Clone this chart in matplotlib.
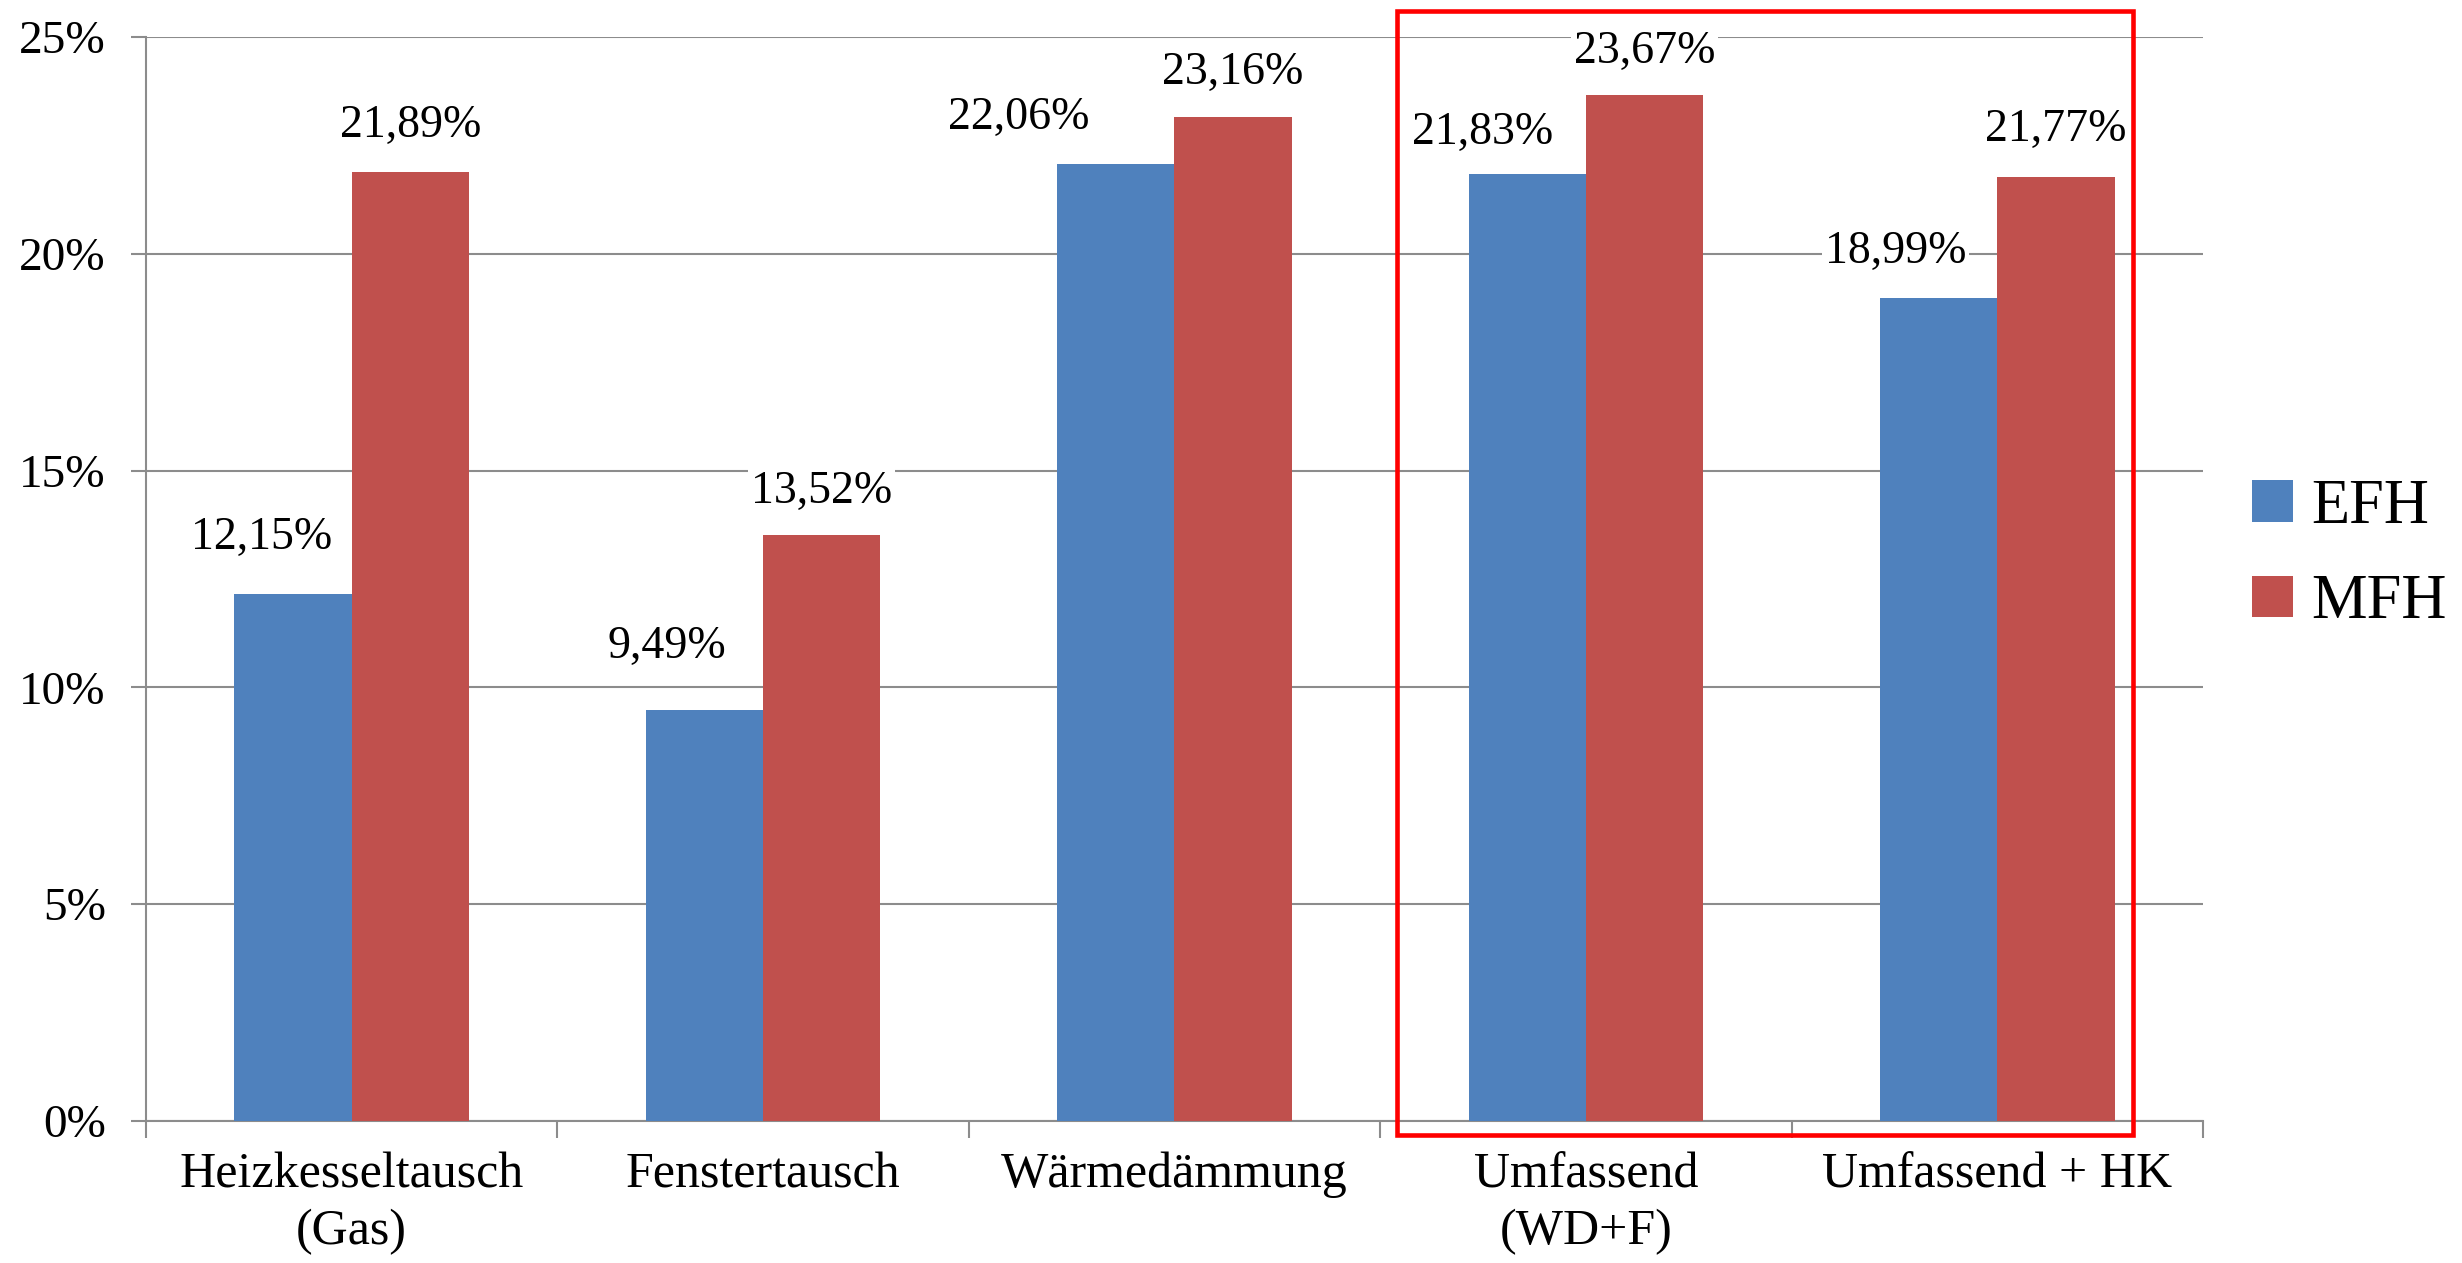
import matplotlib
matplotlib.use("Agg")
import matplotlib.pyplot as plt
from matplotlib.patches import Rectangle
import numpy as np

plt.rcParams["font.family"] = ["Liberation Serif", "DejaVu Serif"]

categories = [
    "Heizkesseltausch\n(Gas)",
    "Fenstertausch",
    "Wärmedämmung",
    "Umfassend\n(WD+F)",
    "Umfassend + HK",
]
efh = [12.15, 9.49, 22.06, 21.83, 18.99]
mfh = [21.89, 13.52, 23.16, 23.67, 21.77]
series_names = ["EFH", "MFH"]
yticks = [0, 5, 10, 15, 20, 25]

# label nudges (points)
efh_dx = [-23, -27, -70, -32, -31]
efh_dy = [41, 45, 34, 30, 33]
mfh_dy = [33, 31, 32, 31, 34]

BLUE = "#4F81BD"
RED = "#C0504D"
GRID = "#8C8C8C"

fig = plt.figure(figsize=(24.62, 12.63), dpi=100)
ax = fig.add_axes([0.0593, 0.1124, 0.8355, 0.8583])

x = np.arange(len(categories))
w = 0.285
b1 = ax.bar(x - w / 2, efh, w, color=BLUE, label=series_names[0], zorder=3)
b2 = ax.bar(x + w / 2, mfh, w, color=RED, label=series_names[1], zorder=3)

def pct(v):
    return f"{v:.2f}%".replace(".", ",")

for i, (bar, v) in enumerate(zip(b1, efh)):
    ax.annotate(pct(v), (bar.get_x() + bar.get_width() / 2, v),
                xytext=(efh_dx[i], efh_dy[i]), textcoords="offset points",
                ha="center", va="center", fontsize=33, zorder=5,
                bbox=dict(facecolor="white", edgecolor="none", pad=2))
for i, (bar, v) in enumerate(zip(b2, mfh)):
    ax.annotate(pct(v), (bar.get_x() + bar.get_width() / 2, v),
                xytext=(0, mfh_dy[i]), textcoords="offset points",
                ha="center", va="center", fontsize=33, zorder=5,
                bbox=dict(facecolor="white", edgecolor="none", pad=2))

ax.set_xlim(-0.5, len(categories) - 0.5)
ax.set_ylim(0, 25)
ax.set_yticks(yticks)
ax.set_yticklabels([f"{t}%" for t in yticks], fontsize=34)
ax.yaxis.grid(True, color=GRID, linewidth=1.5, zorder=0)
ax.set_axisbelow(True)

ax.set_xticks(x)
ax.set_xticklabels(categories, fontsize=36, linespacing=1.3)
ax.set_xticks(np.arange(-0.5, len(categories)), minor=True)
ax.tick_params(axis="x", which="major", length=0, pad=22)
ax.tick_params(axis="x", which="minor", length=12, width=1.5, color=GRID)
ax.tick_params(axis="y", length=11, width=1.5, color=GRID, pad=18)

for s in ["top", "right"]:
    ax.spines[s].set_visible(False)
for s in ["left", "bottom"]:
    ax.spines[s].set_color(GRID)
    ax.spines[s].set_linewidth(1.5)

# red highlight around the last two groups
ax.add_patch(Rectangle((2.54, -0.32), 1.79, 25.92, fill=False,
                       edgecolor="#FF0000", linewidth=3.3,
                       clip_on=False, zorder=6))

leg = fig.legend(handles=[b1, b2], labels=series_names,
                 loc="center left", bbox_to_anchor=(0.892, 0.56),
                 frameon=False, fontsize=45, handlelength=0.65,
                 handleheight=0.65, handletextpad=0.3, labelspacing=0.6)

fig.savefig("out.png", dpi=100)
